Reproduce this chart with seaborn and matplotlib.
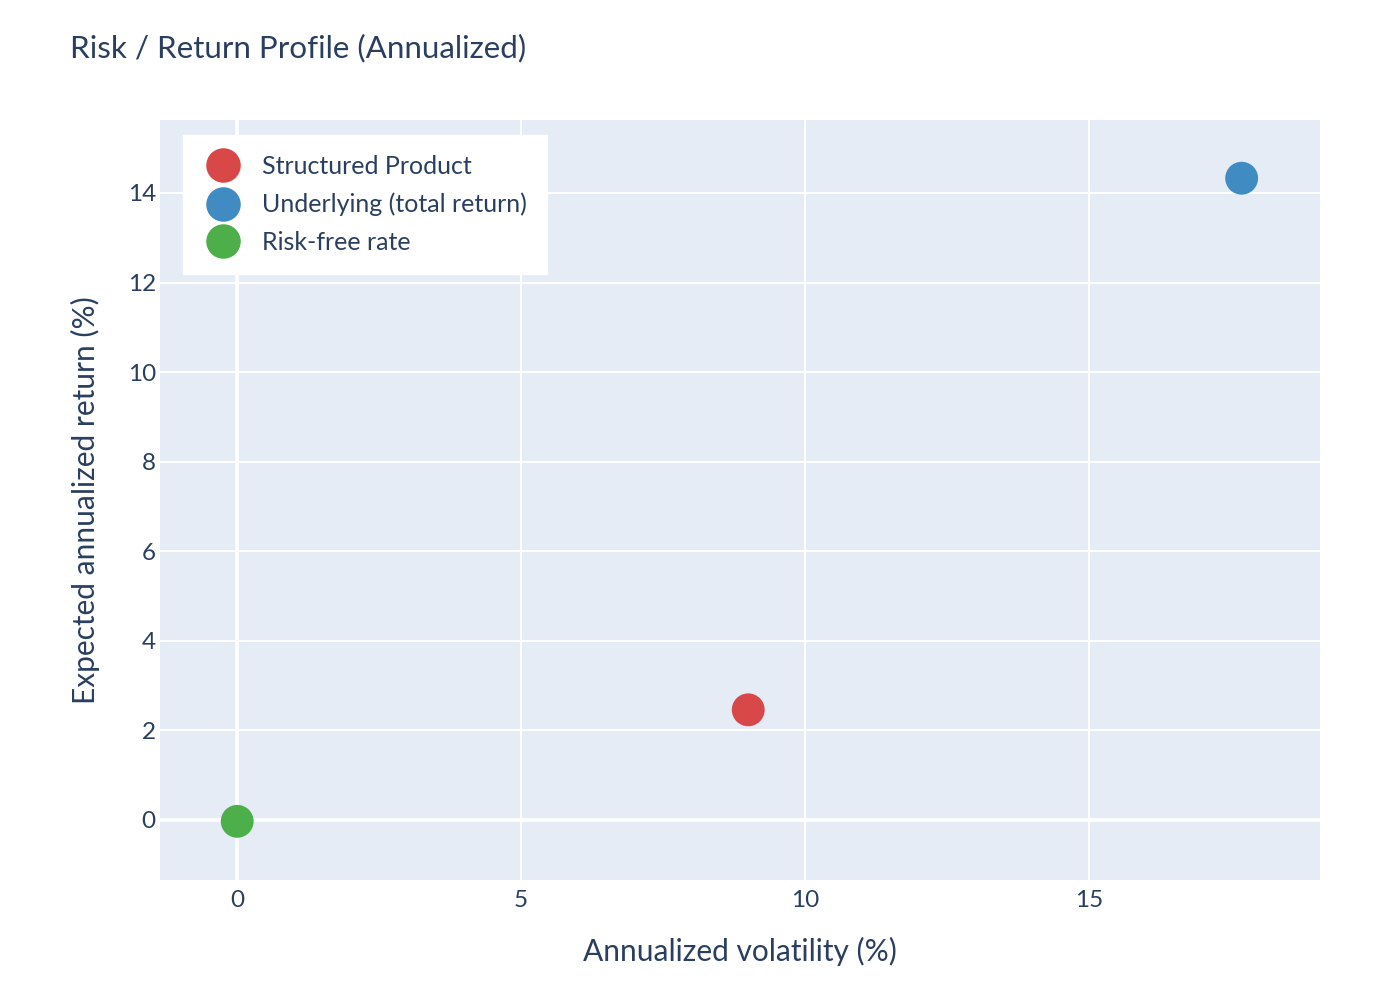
import matplotlib
matplotlib.use("Agg")
import matplotlib.pyplot as plt
import seaborn as sns
import pandas as pd

# values
series = ["Structured Product", "Underlying (total return)", "Risk-free rate"]
volatility = [9.0, 17.69, 0.0]
exp_return = [2.46, 14.33, -0.03]
colors = ["#d94848", "#3f8bc2", "#4daf4a"]

x_ticks = [0, 5, 10, 15]
y_ticks = [0, 2, 4, 6, 8, 10, 12, 14]

df = pd.DataFrame({"series": series, "vol": volatility, "ret": exp_return})

sns.set_style("darkgrid")
plt.rcParams["font.family"] = ["Lato", "DejaVu Sans"]
text_color = "#2a3f5f"

fig = plt.figure(figsize=(14, 10), dpi=100)
ax = fig.add_axes([160 / 1400, 0.12, 1160 / 1400, 0.76])
ax.set_facecolor("#e5ecf6")

sns.scatterplot(data=df, x="vol", y="ret", hue="series", hue_order=series,
                palette=colors, s=560, edgecolor="none", ax=ax, zorder=3)

ax.set_xlim(-1.36, 19.07)
ax.set_ylim(-1.34, 15.63)
ax.set_xticks(x_ticks)
ax.set_yticks(y_ticks)
ax.grid(True, color="white", linewidth=1.5)
ax.axhline(0, color="white", linewidth=2.6, zorder=1)
ax.axvline(0, color="white", linewidth=2.6, zorder=1)
for sp in ax.spines.values():
    sp.set_visible(False)
ax.tick_params(axis="both", length=0, labelsize=17.5, colors=text_color)
ax.tick_params(axis="x", pad=7)
ax.tick_params(axis="y", pad=3)

ax.set_xlabel("Annualized volatility (%)", fontsize=21.5, color=text_color, labelpad=19)
ax.set_ylabel("Expected annualized return (%)", fontsize=21.5, color=text_color, labelpad=20)

fig.text(70 / 1400, 1 - 48 / 1000, "Risk / Return Profile (Annualized)",
         fontsize=22.6, color=text_color, va="center", ha="left")

leg = ax.legend(loc="upper left", bbox_to_anchor=(0.02, 0.98), frameon=True,
                fontsize=18, markerscale=1.05, handletextpad=0.75, handlelength=1.6,
                labelspacing=0.58, borderpad=0.8, borderaxespad=0, fancybox=False)
leg.get_frame().set_facecolor("white")
leg.get_frame().set_edgecolor("white")
leg.get_frame().set_alpha(1)
for t in leg.get_texts():
    t.set_color(text_color)

fig.savefig("out.png", dpi=100)
